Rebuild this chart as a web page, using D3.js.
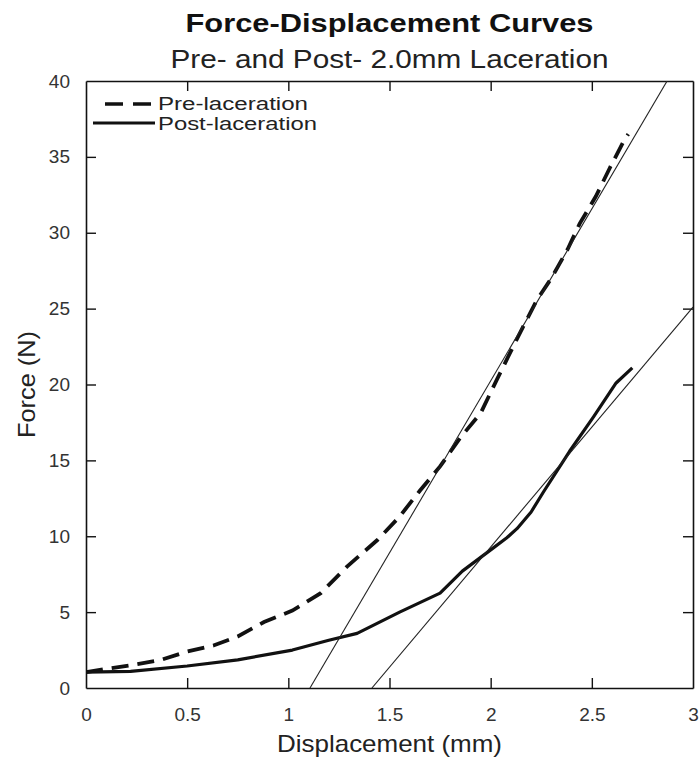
<!DOCTYPE html>
<html>
<head>
<meta charset="utf-8">
<script src="https://cdn.jsdelivr.net/npm/d3@7"></script>
<style>
  body { margin: 0; background: #fff; }
  svg { font-family: "Liberation Sans", Arial, sans-serif; }
</style>
</head>
<body>
<svg id="chart" width="700" height="764"></svg>
<script>
// data
const preDisp  = [0, 0.22, 0.37, 0.5, 0.63, 0.75, 0.88, 1.02, 1.16, 1.29, 1.44, 1.55, 1.65, 1.75, 1.85, 1.95, 2.03, 2.1, 2.16, 2.23, 2.3, 2.38, 2.44, 2.52, 2.59, 2.66, 2.68]
const preForce = [1.05, 1.5, 1.85, 2.4, 2.8, 3.4, 4.35, 5.1, 6.25, 8.0, 9.75, 11.3, 13.0, 14.6, 16.5, 18.1, 20.3, 22.2, 23.8, 25.6, 27.0, 28.9, 30.6, 32.4, 34.3, 36.1, 36.5]
const postDisp  = [0, 0.22, 0.5, 0.75, 1.02, 1.2, 1.34, 1.55, 1.75, 1.86, 2.01, 2.08, 2.13, 2.2, 2.26, 2.39, 2.51, 2.62, 2.7]
const postForce = [1.05, 1.1, 1.45, 1.85, 2.5, 3.15, 3.6, 5.0, 6.25, 7.7, 9.2, 9.9, 10.5, 11.6, 12.9, 15.6, 17.9, 20.1, 21.1]
// linear fits: [x0, y0] -> [x1, y1]
const preFit  = [[1.107, 0], [2.872, 40]]
const postFit = [[1.413, 0], [3.0, 25.1]]

const xTicks = [0, 0.5, 1, 1.5, 2, 2.5, 3]
const yTicks = [0, 5, 10, 15, 20, 25, 30, 35, 40]

const margin = {left: 86, right: 7, top: 81, bottom: 76}
const width = 700, height = 764
const svg = d3.select("#chart")

const x = d3.scaleLinear().domain([0, 3]).range([margin.left, width - margin.right])
const y = d3.scaleLinear().domain([0, 40]).range([height - margin.bottom, margin.top])

svg.append("defs").append("clipPath").attr("id", "plot")
  .append("rect")
    .attr("x", x(0)).attr("y", y(40))
    .attr("width", x(3) - x(0)).attr("height", y(0) - y(40))

// axes, ticks pointing in on all four sides
const tickLen = 10
const axisB = svg.append("g").attr("transform", `translate(0,${y(0)})`)
  .call(d3.axisBottom(x).tickValues(xTicks).tickSizeInner(-tickLen).tickSizeOuter(0).tickPadding(20).tickFormat(d3.format("")))
const axisT = svg.append("g").attr("transform", `translate(0,${y(40)})`)
  .call(d3.axisTop(x).tickValues(xTicks).tickSizeInner(-tickLen).tickSizeOuter(0).tickFormat(""))
const axisL = svg.append("g").attr("transform", `translate(${x(0)},0)`)
  .call(d3.axisLeft(y).tickValues(yTicks).tickSizeInner(-tickLen).tickSizeOuter(0).tickPadding(16))
const axisR = svg.append("g").attr("transform", `translate(${x(3)},0)`)
  .call(d3.axisRight(y).tickValues(yTicks).tickSizeInner(-tickLen).tickSizeOuter(0).tickFormat(""))

for (const a of [axisB, axisT, axisL, axisR]) {
  a.select(".domain").attr("stroke", "#111").attr("stroke-width", 1.6)
  a.selectAll(".tick line").attr("stroke", "#111").attr("stroke-width", 1.4)
  a.selectAll(".tick text").attr("font-size", 19).attr("fill", "#333")
    .attr("font-family", "Liberation Sans, Arial, sans-serif")
}
// no tick marks at the corners
axisB.selectAll(".tick").filter(d => d === 0 || d === 3).select("line").remove()
axisT.selectAll(".tick").filter(d => d === 0 || d === 3).select("line").remove()
axisL.selectAll(".tick").filter(d => d === 0 || d === 40).select("line").remove()
axisR.selectAll(".tick").filter(d => d === 0 || d === 40).select("line").remove()

const plot = svg.append("g").attr("clip-path", "url(#plot)")

const line = d3.line().x(d => x(d[0])).y(d => y(d[1]))

plot.append("path")
  .datum(d3.zip(preDisp, preForce))
  .attr("fill", "none").attr("stroke", "#111")
  .attr("stroke-width", 3.8).attr("stroke-dasharray", "17,9")
  .attr("d", line)

plot.append("path")
  .datum(d3.zip(postDisp, postForce))
  .attr("fill", "none").attr("stroke", "#111")
  .attr("stroke-width", 3.2).attr("stroke-linejoin", "round")
  .attr("d", line)

plot.selectAll("line.fit")
  .data([preFit, postFit])
  .join("line")
    .attr("class", "fit")
    .attr("x1", d => x(d[0][0])).attr("y1", d => y(d[0][1]))
    .attr("x2", d => x(d[1][0])).attr("y2", d => y(d[1][1]))
    .attr("stroke", "#222").attr("stroke-width", 1.1)

// legend
const legend = svg.append("g")
legend.append("line").attr("x1", 105).attr("x2", 152).attr("y1", 104).attr("y2", 104)
  .attr("stroke", "#111").attr("stroke-width", 3.6).attr("stroke-dasharray", "18,10")
legend.append("line").attr("x1", 93).attr("x2", 155).attr("y1", 123).attr("y2", 123)
  .attr("stroke", "#111").attr("stroke-width", 3)
legend.append("text").attr("x", 158).attr("y", 110).attr("font-size", 17.5).attr("fill", "#222")
  .attr("textLength", 150).attr("lengthAdjust", "spacingAndGlyphs")
  .text("Pre-laceration")
legend.append("text").attr("x", 158).attr("y", 130).attr("font-size", 17.5).attr("fill", "#222")
  .attr("textLength", 159).attr("lengthAdjust", "spacingAndGlyphs")
  .text("Post-laceration")

// titles
const cx = (x(0) + x(3)) / 2
svg.append("text").attr("x", cx).attr("y", 32).attr("text-anchor", "middle")
  .attr("font-size", 25).attr("font-weight", "bold").attr("fill", "#111")
  .attr("textLength", 408).attr("lengthAdjust", "spacingAndGlyphs")
  .text("Force-Displacement Curves")
svg.append("text").attr("x", cx).attr("y", 68).attr("text-anchor", "middle")
  .attr("font-size", 26).attr("fill", "#222")
  .attr("textLength", 438).attr("lengthAdjust", "spacingAndGlyphs")
  .text("Pre- and Post- 2.0mm Laceration")

svg.append("text").attr("x", cx).attr("y", 752).attr("text-anchor", "middle")
  .attr("font-size", 24).attr("fill", "#222")
  .attr("textLength", 225).attr("lengthAdjust", "spacingAndGlyphs")
  .text("Displacement (mm)")
svg.append("text")
  .attr("transform", `translate(35,${(y(0) + y(40)) / 2}) rotate(-90)`)
  .attr("text-anchor", "middle")
  .attr("font-size", 24).attr("fill", "#222")
  .attr("textLength", 107).attr("lengthAdjust", "spacingAndGlyphs")
  .text("Force (N)")
</script>
</body>
</html>
